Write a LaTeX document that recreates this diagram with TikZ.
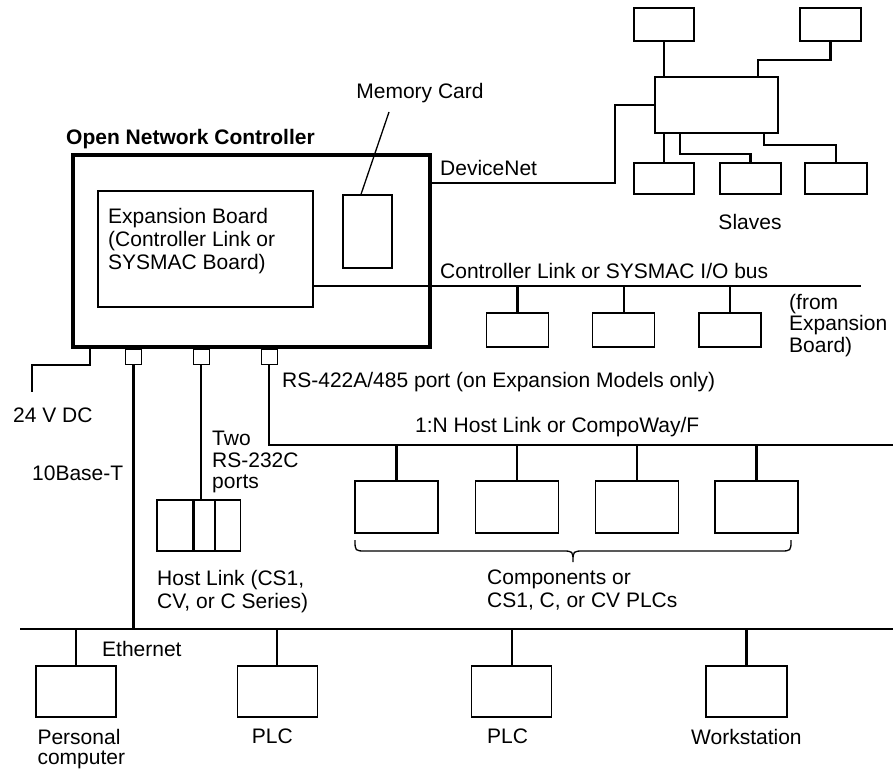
\documentclass[tikz,border=0pt]{standalone}
\usepackage{fontspec}
\setmainfont{Liberation Sans}
\usetikzlibrary{positioning}
\tikzstyle{ctrl}=[rectangle,draw,line width=4.5pt,inner sep=0pt]
\tikzstyle{box}=[rectangle,draw,line width=1.3pt,inner sep=0pt]
\tikzstyle{port}=[rectangle,draw,line width=1pt,inner sep=0pt,minimum width=16pt,minimum height=15pt]
\tikzstyle{lbl}=[align=left,inner sep=0pt,font=\fontsize{21}{23}\selectfont]
\tikzstyle{tight}=[font=\fontsize{21}{21.5}\selectfont]
\tikzstyle{wire}=[line width=2.2pt]
\tikzstyle{thinwire}=[line width=1.3pt]

\begin{document}
\begin{tikzpicture}[x=1pt,y=-1pt]
\useasboundingbox (0,0) rectangle (893,768);
% controller
\node (onc) [ctrl, minimum width=357pt, minimum height=192pt] at (251.5,251) {};
\node (title) [lbl, font=\fontsize{21}{23}\selectfont\bfseries, anchor=west] at (66,139) {Open Network Controller};
\node (exp) [box, minimum width=215pt, minimum height=116pt] at (205.5,249) {};
\node (exptxt) [lbl, anchor=north west] at (108,208) {Expansion Board\\(Controller Link or\\SYSMAC Board)};
\node (mc) [box, minimum width=49pt, minimum height=73pt] at (367.5,231.5) {};
\node (mclbl) [lbl] at (420,93) {Memory Card};
\coordinate (mctip) at (389,112);
\draw [thinwire] ([xshift=-6.5pt]mc.north) -- (mctip);
\node (p1) [port] at (133.5,356.5) {};
\node (p2) [port] at (201,356.5) {};
\node (p3) [port] at (269,356.5) {};

% DeviceNet slaves
\node (hub) [box, minimum width=123pt, minimum height=56pt] at (716.5,105) {};
\node (s1) [box, minimum width=60pt, minimum height=33pt] at (664,24.5) {};
\node (s2) [box, minimum width=61pt, minimum height=33pt] at (830.5,24.5) {};
\node (s3) [box, minimum width=60pt, minimum height=31pt] at (664,178.5) {};
\node (s4) [box, minimum width=61pt, minimum height=31pt] at (750.5,178.5) {};
\node (s5) [box, minimum width=62pt, minimum height=31pt] at (836,178.5) {};
\node (slaves) [lbl] at (750,222) {Slaves};
\coordinate (dn) at (430,183);
\draw [wire] (dn) -- (615,183) |- (hub.west);
\node (dnlbl) [lbl, anchor=west] at (440,168) {DeviceNet};
\draw [wire] (s1.south) -- (s1.south |- hub.north);
\draw [wire] (s2.south) -- ++(0,18) -| ([xshift=-21pt]hub.north east);
\draw [wire] (s3.north |- hub.south) -- (s3.north);
\draw [wire] ([xshift=-36.5pt]hub.south) -- ++(0,20) -| (s4.north);
\draw [wire] ([xshift=47.5pt]hub.south) -- ++(0,11) -| (s5.north);

% Controller Link bus
\coordinate (clL) at (313,286);
\coordinate (clR) at (861,286);
\draw [wire] (clL) -- (clR);
\node (cllbl) [lbl, anchor=west] at (440,271) {Controller Link or SYSMAC I/O bus};
\node (cl1) [box, minimum width=62pt, minimum height=34pt] at (517.5,330) {};
\node (cl2) [box, minimum width=62pt, minimum height=34pt, right=43pt of cl1] {};
\node (cl3) [box, minimum width=62pt, minimum height=34pt, right=43pt of cl2] {};
\foreach \n in {cl1,cl2,cl3}
  \draw [wire] (\n.north) -- (\n.north |- clL);
\node (fromlbl) [lbl, tight, anchor=north west] at (789,294) {(from\\Expansion\\Board)};

% power
\coordinate (pw) at (90,347);
\coordinate (pwend) at (32,392);
\draw [thinwire] (pw) -- ++(0,18) -| (pwend);
\node (pwlbl) [lbl, anchor=west] at (13,415) {24 V DC};

% serial ports
\node (rslbl) [lbl, anchor=west] at (282,382) {RS-422A/485 port (on Expansion Models only)};
\node (twolbl) [lbl, tight, anchor=north west] at (212,431) {Two\\RS-232C\\ports};
\node (h1) [box, minimum width=36pt, minimum height=51pt] at (175,525.5) {};
\node (h2) [box, minimum width=20pt, minimum height=51pt, right=0pt of h1] {};
\node (h3) [box, minimum width=25pt, minimum height=51pt, right=0pt of h2] {};
\draw [wire] (p2.south) -- (p2.south |- h2.north);
\node (hllbl) [lbl, anchor=north west] at (157,570) {Host Link (CS1,\\CV, or C Series)};

% 1:N bus
\coordinate (rsR) at (893,445);
\draw [wire] (p3.south) |- (rsR);
\node (nlbl) [lbl, anchor=west] at (415,427) {1:N Host Link or CompoWay/F};
\node (c1) [box, minimum width=83pt, minimum height=52pt] at (396.5,507) {};
\node (c2) [box, minimum width=83pt, minimum height=52pt, right=36pt of c1] {};
\node (c3) [box, minimum width=83pt, minimum height=52pt, right=36pt of c2] {};
\node (c4) [box, minimum width=83pt, minimum height=52pt, right=35pt of c3] {};
\foreach \n in {c1,c2,c3,c4}
  \draw [wire] (\n.north) -- (\n.north |- rsR);
\draw [thinwire] (355,540) .. controls (355,551) .. (366,551) -- (562,551)
  .. controls (573,551) .. (573,562) .. controls (573,551) .. (584,551)
  -- (780,551) .. controls (791,551) .. (791,540);
\node (complbl) [lbl, anchor=north west] at (487,570) {Components or\\CS1, C, or CV PLCs};

% Ethernet
\coordinate (ethL) at (20,629);
\coordinate (ethR) at (893,629);
\draw [wire] (ethL) -- (ethR);
\draw [wire] (p1.south) -- (p1.south |- ethL);
\node (baselbl) [lbl, anchor=west] at (32,473) {10Base-T};
\node (ethlbl) [lbl, anchor=west] at (102,649) {Ethernet};
\node (pc) [box, minimum width=80pt, minimum height=51pt] at (76,691.5) {};
\node (plc1) [box, minimum width=80pt, minimum height=51pt, right=120pt of pc] {};
\node (plc2) [box, minimum width=80pt, minimum height=51pt, right=153pt of plc1] {};
\node (ws) [box, minimum width=81pt, minimum height=51pt, right=153pt of plc2] {};
\foreach \n in {pc,plc1,plc2,ws}
  \draw [wire] (\n.north) -- (\n.north |- ethL);
\node (pclbl) [lbl, font=\fontsize{21}{20.5}\selectfont, below=11pt of pc.south west, anchor=north west, xshift=2pt] {Personal\\computer};
\node (plc1lbl) [lbl, below=11pt of plc1, xshift=-5pt] {PLC};
\node (plc2lbl) [lbl, below=11pt of plc2, xshift=-4pt] {PLC};
\node (wslbl) [lbl, below=11pt of ws] {Workstation};
\end{tikzpicture}
\end{document}
